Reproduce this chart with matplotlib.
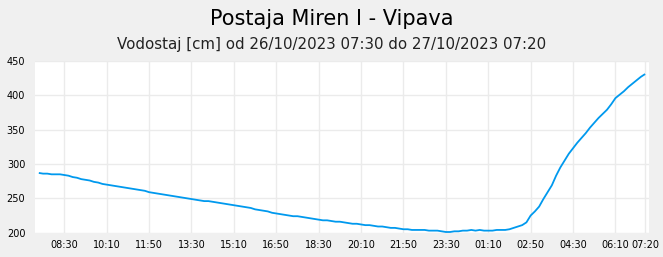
import pandas as pd
import matplotlib.pyplot as plt
import matplotlib.dates as mdates

# === data: water level [cm], every 10 minutes from 26/10/2023 07:30 ===
start = "2023-10-26 07:30"
levels = [
    287, 286, 286, 285, 285, 285,
    284, 283, 281, 280, 278, 277, 276, 274, 273, 271,
    270, 269, 268, 267, 266, 265, 264, 263, 262, 261,
    259, 258, 257, 256, 255, 254, 253, 252, 251, 250,
    249, 248, 247, 246, 246, 245, 244, 243, 242, 241,
    240, 239, 238, 237, 236, 234, 233, 232, 231, 229,
    228, 227, 226, 225, 224, 224, 223, 222, 221, 220,
    219, 218, 218, 217, 216, 216, 215, 214, 213, 213,
    212, 211, 211, 210, 209, 209, 208, 207, 207, 206,
    205, 205, 204, 204, 204, 204, 203, 203, 203, 202,
    201, 201, 202, 202, 203, 203, 204, 203, 204, 203,
    203, 203, 204, 204, 204, 205, 207, 209, 211, 215,
    225, 231, 238, 249, 259, 269, 283, 295, 305, 315,
    323, 331, 338, 345, 353, 360, 367, 373, 379, 387,
    396, 401, 406, 412, 417, 422, 427, 431,
]
times = pd.date_range(start, periods=len(levels), freq="10min")

tick_labels = ["08:30", "10:10", "11:50", "13:30", "15:10", "16:50", "18:30",
               "20:10", "21:50", "23:30", "01:10", "02:50", "04:30", "06:10", "07:20"]
tick_times = list(pd.date_range("2023-10-26 08:30", periods=14, freq="100min")) + [times[-1]]

y_ticks = [200, 250, 300, 350, 400, 450]

# === figure ===
fig = plt.figure(figsize=(6.63, 2.57), dpi=100, facecolor="#f0f0f0")
ax = fig.add_axes([0.0528, 0.0946, 0.926, 0.668])
ax.set_facecolor("white")

ax.plot(times, levels, color="#0099ee", lw=1.3, solid_capstyle="butt")

ax.set_xlim(times[0] - pd.Timedelta(minutes=9), times[-1] + pd.Timedelta(minutes=9))
ax.set_ylim(200, 450)
ax.set_xticks(tick_times)
ax.set_xticklabels(tick_labels)
ax.set_yticks(y_ticks)
ax.tick_params(axis="both", length=0, labelsize=7, colors="black")
ax.tick_params(axis="x", pad=5)
ax.tick_params(axis="y", pad=7)
ax.grid(True, color="#ebebeb", lw=1)
ax.set_axisbelow(True)
for s in ax.spines.values():
    s.set_visible(False)

fig.text(0.5, 0.925, "Postaja Miren I - Vipava", ha="center", va="center", fontsize=15)
fig.text(0.5, 0.825, "Vodostaj [cm] od 26/10/2023 07:30 do 27/10/2023 07:20",
         ha="center", va="center", fontsize=10.8, color="#222222")

fig.savefig("out.png", dpi=100, facecolor=fig.get_facecolor())
